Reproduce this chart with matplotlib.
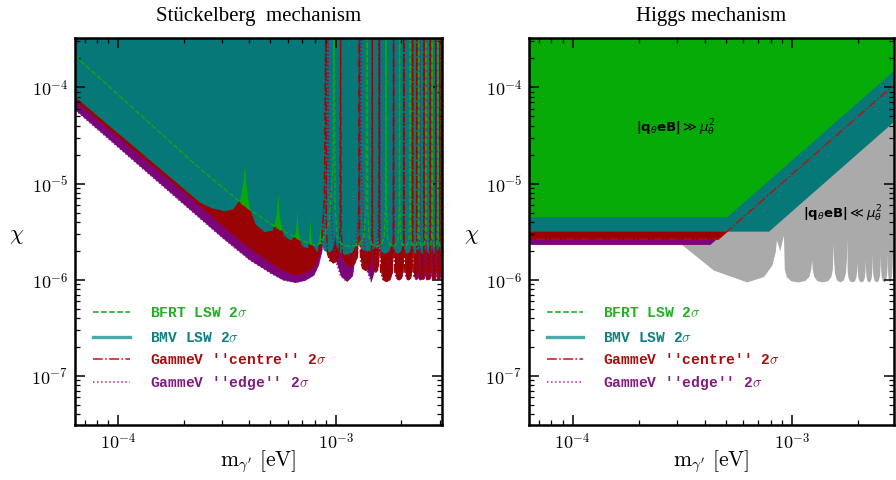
import numpy as np
import matplotlib
matplotlib.use('Agg')
import matplotlib.pyplot as plt
from matplotlib.ticker import FuncFormatter, LogLocator

plt.rcParams['mathtext.fontset'] = 'cm'

TOP = 1e-3  # spikes go off the top of the plot

# ---------------- Stückelberg panel ----------------
# GammeV "edge" (purple), smooth part + first bowls
edge_m = [6.0e-5, 2.0e-4, 3.0e-4, 4.0e-4, 5.0e-4, 5.7e-4, 6.5e-4, 7.2e-4, 7.9e-4, 8.3e-4,
          8.6e-4, 8.9e-4, 9.15e-4, 9.2e-4, 9.25e-4, 9.6e-4, 9.9e-4, 1.05e-3, 1.12e-3, 1.19e-3,
          1.22e-3, 1.26e-3, 1.295e-3, 1.30e-3, 1.305e-3, 1.34e-3, 1.38e-3, 1.45e-3, 1.51e-3,
          1.555e-3, 1.585e-3, 1.59e-3]
edge_chi = [6.5e-5, 6.1e-6, 2.75e-6, 1.62e-6, 1.18e-6, 1.0e-6, 9.4e-7, 9.9e-7, 1.12e-6, 1.42e-6,
            1.97e-6, 4.0e-6, 2.0e-5, TOP, 2.0e-5, 3.5e-6, 1.67e-6, 1.1e-6, 9.6e-7, 1.1e-6,
            1.67e-6, 4.0e-6, 2.0e-5, TOP, 2.0e-5, 3.0e-6, 1.3e-6, 9.6e-7, 1.3e-6,
            3.0e-6, 2.0e-5, TOP]
edge_nulls = [1.59e-3, 1.84e-3, 2.06e-3, 2.25e-3, 2.43e-3, 2.60e-3, 2.76e-3, 2.91e-3, 3.05e-3, 3.19e-3]
edge_troughs = [9.8e-7, 1.0e-6, 1.0e-6, 1.0e-6, 1.0e-6, 1.0e-6, 1.0e-6, 1.0e-6, 1.0e-6]

# GammeV "centre" (red)
centre_m = [6.0e-5, 2.0e-4, 3.0e-4, 4.0e-4, 5.0e-4, 5.7e-4, 6.5e-4, 7.2e-4, 7.9e-4, 8.3e-4,
            8.6e-4, 8.85e-4, 9.0e-4]
centre_chi = [8.1e-5, 8.2e-6, 3.7e-6, 2.15e-6, 1.52e-6, 1.26e-6, 1.13e-6, 1.19e-6, 1.36e-6,
              1.75e-6, 2.6e-6, 7.0e-6, TOP]
centre_nulls = [9.0e-4, 1.05e-3, 1.28e-3, 1.47e-3, 1.58e-3, 1.84e-3, 2.05e-3, 2.25e-3, 2.35e-3,
                2.54e-3, 2.71e-3, 2.87e-3, 3.0e-3, 3.15e-3]
centre_troughs = [1.5e-6, 1.4e-6, 1.25e-6, 1.2e-6, 9.6e-7, 1.0e-6, 1.0e-6, 1.05e-6, 1.0e-6,
                  1.0e-6, 1.0e-6, 1.0e-6, 1.0e-6]

# BFRT LSW (green)
bfrt_m = [6.0e-5, 2.37e-4, 3.85e-4, 5.25e-4, 6.88e-4, 7.9e-4, 8.6e-4, 9.3e-4, 9.7e-4, 9.8e-4]
bfrt_chi = [2.37e-4, 1.43e-5, 5.74e-6, 3.56e-6, 2.58e-6, 2.29e-6, 2.4e-6, 4.0e-6, 1.5e-5, TOP]
bfrt_nulls = [9.8e-4, 1.39e-3, 1.70e-3, 1.96e-3, 2.19e-3, 2.40e-3, 2.59e-3, 2.77e-3, 2.94e-3, 3.10e-3]
bfrt_troughs = [2.2e-6] * 9

# BMV LSW (teal), its spikes are cut short
bmv_m = [6.0e-5, 2.37e-4, 2.69e-4, 3.09e-4, 3.36e-4, 3.62e-4, 3.74e-4, 3.82e-4, 3.92e-4, 4.05e-4,
         4.3e-4, 4.7e-4, 5.1e-4, 5.3e-4, 5.43e-4, 5.56e-4, 5.8e-4, 6.2e-4, 6.5e-4, 6.64e-4,
         6.78e-4, 7.0e-4, 7.4e-4, 7.65e-4, 7.8e-4, 8.2e-4, 8.54e-4]
bmv_chi = [9.0e-5, 6.5e-6, 5.64e-6, 5.25e-6, 5.5e-6, 7.0e-6, 1.1e-5, 1.95e-5, 9.0e-6, 5.5e-6,
           3.8e-6, 3.2e-6, 3.3e-6, 4.8e-6, 1.0e-5, 4.5e-6, 2.9e-6, 2.6e-6, 3.1e-6, 7.0e-6,
           3.2e-6, 2.3e-6, 2.15e-6, 5.3e-6, 2.4e-6, 2.0e-6, 4.5e-6]
bmv_nulls = [8.54e-4, 9.9e-4, 1.25e-3, 1.56e-3, 1.81e-3, 2.03e-3, 2.22e-3, 2.42e-3, 2.6e-3,
             2.78e-3, 2.95e-3, 3.1e-3]
bmv_tops = [4.5e-6, 4.0e-6, 4.0e-6, 5.1e-6, 4.0e-6, 3.8e-6, 3.6e-6, 3.6e-6, 3.5e-6, 3.5e-6,
            3.5e-6, 3.5e-6]
bmv_troughs = [1.95e-6, 1.85e-6, 2.0e-6, 1.9e-6, 1.9e-6, 1.9e-6, 1.9e-6, 1.9e-6, 1.9e-6,
               1.9e-6, 1.9e-6]

# ---------------- Higgs panel ----------------
# flat bands turning into slope-2 lines
h_edge_m, h_edge_chi = [5e-5, 4.23e-4, 4e-3], [2.33e-6, 2.33e-6, 2.08e-4]
h_centre_m, h_centre_chi = [5e-5, 4.62e-4, 4e-3], [2.65e-6, 2.65e-6, 1.99e-4]
h_bmv_m, h_bmv_chi = [5e-5, 7.82e-4, 4e-3], [3.2e-6, 3.2e-6, 8.37e-5]
h_bfrt_m, h_bfrt_chi = [5e-5, 5.05e-4, 4e-3], [4.52e-6, 4.52e-6, 2.84e-4]

# grey region |q eB| << mu^2
gray_m = [6.0e-5, 2.0e-4, 3.09e-4, 4.39e-4, 6.23e-4, 7.42e-4, 8.1e-4, 8.4e-4, 8.5e-4, 8.8e-4, 9.15e-4]
gray_chi = [6.6e-5, 6.4e-6, 2.4e-6, 1.26e-6, 9.5e-7, 1.08e-6, 1.42e-6, 1.97e-6, 2.6e-6, 2.0e-6, 2.9e-6]
gray_nulls = [9.15e-4, 1.23e-3, 1.54e-3, 1.78e-3, 1.98e-3, 2.16e-3, 2.32e-3, 2.53e-3, 2.72e-3,
              2.86e-3, 3.0e-3]
gray_tops = [2.9e-6, 1.6e-6, 2.4e-6, 2.7e-6, 1.55e-6, 1.66e-6, 1.87e-6, 1.8e-6, 1.97e-6, 1.87e-6, 1.9e-6]
gray_troughs = [9.5e-7] * 10

legend_labels = ['BFRT LSW 2$\\sigma$', 'BMV LSW 2$\\sigma$',
                 "GammeV ''centre'' 2$\\sigma$", "GammeV ''edge'' 2$\\sigma$"]

GREEN, TEAL, RED, PURPLE, GREY = '#07ab07', '#077878', '#990303', '#7c057c', '#aaaaaa'
GREEN_L, RED_L, PURPLE_L = '#11a811', '#a00404', '#801080'

# bowl profile between two spikes: position in the gap, rise factor, max share of the spike
BOWL_F = [0.03, 0.1, 0.25, 0.5, 0.75, 0.9, 0.97]
BOWL_K = [2.5, 1.25, 1.05, 1.0, 1.05, 1.25, 2.5]
BOWL_S = [0.6, 0.25, 0.06, 0.0, 0.06, 0.25, 0.6]


def spiky(m0, c0, nulls, troughs, tops=None):
    if tops is None:
        tops = [TOP] * len(nulls)
    m, c = list(m0), list(c0)
    for i, t in enumerate(troughs):
        a, b = np.log10(nulls[i]), np.log10(nulls[i + 1])
        cap = min(tops[i], tops[i + 1])
        for f, k, s in zip(BOWL_F, BOWL_K, BOWL_S):
            m.append(10 ** (a + f * (b - a)))
            c.append(min(t * k, t * (cap / t) ** s) if s > 0 else t)
        m.append(nulls[i + 1])
        c.append(tops[i + 1])
    return np.array(m), np.array(c)


def style_axes(ax, xmax):
    ax.set_xscale('log')
    ax.set_yscale('log')
    ax.set_xlim(6.33e-5, xmax)
    ax.set_ylim(3.1e-8, 3.25e-4)
    fmt = FuncFormatter(lambda v, p: r'$10^{%d}$' % int(round(np.log10(v))))
    ax.xaxis.set_major_formatter(fmt)
    ax.yaxis.set_major_formatter(fmt)
    ax.yaxis.set_major_locator(LogLocator(base=10, numticks=10))
    ax.tick_params(which='both', direction='in', top=True, right=True, labelsize=13)
    ax.tick_params(which='major', length=7, width=1.1, pad=5)
    ax.tick_params(which='minor', length=3.8, width=0.9)
    for s in ax.spines.values():
        s.set_linewidth(1.8)
    ax.text(0.5, -0.093, r'$\mathrm{m}_{\gamma^{\prime}}\ \mathrm{[eV]}$', transform=ax.transAxes,
            fontsize=15.5, ha='center', va='center')
    ax.text(-0.158, 0.49, r'$\chi$', transform=ax.transAxes, fontsize=16,
            ha='center', va='center')


def legend(ax, x0, x1, xt):
    rows = [0.291, 0.227, 0.171, 0.110]
    hstyle = [dict(color=GREEN_L, ls='--', lw=1.1),
              dict(color='#4aa9a9', ls='-', lw=2.4),
              dict(color='#cc1111', ls='-.', lw=1.1),
              dict(color='#aa22aa', ls=':', lw=1.1)]
    tcol = ['#22b022', '#118080', '#a80c0c', '#821a82']
    for y, lab, st, tc in zip(rows, legend_labels, hstyle, tcol):
        ax.plot([x0, x1], [y, y], transform=ax.transAxes, **st)
        ax.text(xt, y, lab, transform=ax.transAxes, color=tc, fontsize=10.5,
                family='Liberation Mono', weight='bold', va='center', ha='left')


fig = plt.figure(figsize=(8.96, 4.81), dpi=100)
ax1 = fig.add_axes([75 / 896, 55 / 481, 367 / 896, 387 / 481])
ax2 = fig.add_axes([529 / 896, 55 / 481, 365 / 896, 387 / 481])

# left: Stückelberg
em, ec = spiky(edge_m, edge_chi, edge_nulls, edge_troughs)
cm_, cc = spiky(centre_m, centre_chi, centre_nulls, centre_troughs)
bm, bc = spiky(bfrt_m, bfrt_chi, bfrt_nulls, bfrt_troughs)
vm, vc = spiky(bmv_m, bmv_chi, bmv_nulls, bmv_troughs, bmv_tops)

ax1.fill_between(em, ec, TOP, color=PURPLE, lw=0)
ax1.fill_between(cm_, cc, TOP, color=RED, lw=0)
ax1.fill_between(bm, bc, TOP, color=GREEN, lw=0)
ax1.fill_between(vm, vc, TOP, color=TEAL, lw=0)
ax1.plot(vm, vc, color=TEAL, lw=1)
ax1.plot(em, ec, ':', color=PURPLE_L, lw=1)
ax1.plot(cm_, cc, '-.', color=RED_L, lw=1)
ax1.plot(bm, bc, '--', color=GREEN_L, lw=1)
style_axes(ax1, 3.07e-3)
legend(ax1, 0.05, 0.15, 0.204)
ax1.set_title('Stückelberg  mechanism', family='Liberation Serif', fontsize=15, pad=13)

# right: Higgs
gm, gc = spiky(gray_m, gray_chi, gray_nulls, gray_troughs, gray_tops)
ax2.fill_between(gm, gc, TOP, color=GREY, lw=0)
ax2.fill_between(h_edge_m, h_edge_chi, TOP, color=PURPLE, lw=0)
ax2.fill_between(h_centre_m, h_centre_chi, TOP, color=RED, lw=0)
ax2.fill_between(h_bmv_m, h_bmv_chi, TOP, color=TEAL, lw=0)
ax2.fill_between(h_bfrt_m, h_bfrt_chi, TOP, color=GREEN, lw=0)
ax2.plot(h_centre_m, h_centre_chi, '-.', color='#c00c0c', lw=1)
style_axes(ax2, 2.92e-3)
legend(ax2, 0.048, 0.148, 0.203)
ax2.set_title('Higgs mechanism', family='Liberation Serif', fontsize=15, pad=13)
ax2.text(0.402, 0.77, r'$\mathbf{|q}_{\theta}\mathbf{eB|}\gg\mu_{\theta}^{2}$',
         transform=ax2.transAxes, fontsize=9.5, ha='center', va='center',
         math_fontfamily='dejavusans')
ax2.text(0.859, 0.548, r'$\mathbf{|q}_{\theta}\mathbf{eB|}\ll\mu_{\theta}^{2}$',
         transform=ax2.transAxes, fontsize=9.5, ha='center', va='center',
         math_fontfamily='dejavusans')

fig.savefig('out.png', dpi=100)
